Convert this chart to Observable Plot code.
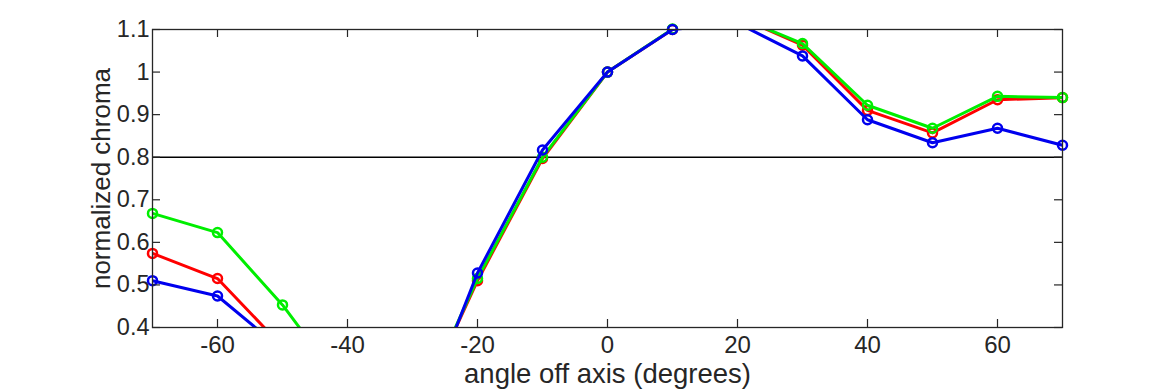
<!DOCTYPE html>
<html>
<head>
<meta charset="utf-8">
<script src="https://cdn.jsdelivr.net/npm/d3@7"></script>
<script src="https://cdn.jsdelivr.net/npm/@observablehq/plot@0.6"></script>
<style>
  html, body { margin: 0; padding: 0; background: #fff; }
</style>
</head>
<body>
<div id="chart"></div>
<script>
const angles = [-70, -60, -50, -40, -30, -20, -10, 0, 10, 20, 30, 40, 50, 60, 70];
const red   = [0.574, 0.515, 0.355, 0.20, 0.177, 0.510, 0.797, 1.0, 1.100, 1.130, 1.063, 0.910, 0.857, 0.935, 0.940];
const green = [0.668, 0.623, 0.453, 0.249, 0.177, 0.515, 0.800, 1.0, 1.101, 1.130, 1.067, 0.922, 0.868, 0.943, 0.940];
const blue  = [0.510, 0.474, 0.347, 0.22, 0.140, 0.528, 0.817, 1.0, 1.100, 1.115, 1.038, 0.888, 0.834, 0.868, 0.828];
const xTicks = [-60, -40, -20, 0, 20, 40, 60];
const yTicks = [0.4, 0.5, 0.6, 0.7, 0.8, 0.9, 1.0, 1.1];
const threshold = 0.8;
const xLabel = "angle off axis (degrees)";
const yLabel = "normalized chroma";

const series = [
  {name: "red", color: "#ff0000", values: red},
  {name: "green", color: "#00ee00", values: green},
  {name: "blue", color: "#0000ee", values: blue}
];
const rows = series.flatMap(s => angles.map((a, i) => ({series: s.name, color: s.color, x: a, y: s.values[i]})));
const yMin = 0.4, yMax = 1.1;
const visible = rows.filter(d => d.y >= yMin - 1e-9 && d.y <= yMax + 0.002);

const axisColor = "#262626";
const lineMarks = series.flatMap(s => [
  Plot.line(rows.filter(d => d.series === s.name), {x: "x", y: "y", stroke: s.color, strokeWidth: 3, clip: true}),
  Plot.dot(visible.filter(d => d.series === s.name), {x: "x", y: "y", stroke: s.color, strokeWidth: 2.5, r: 4.5, fill: "none"})
]);

const chart = Plot.plot({
  width: 1170,
  height: 390,
  marginLeft: 152,
  marginRight: 108,
  marginTop: 29,
  marginBottom: 63,
  style: {fontFamily: "'Liberation Sans', Arial, Helvetica, sans-serif", fontSize: "24px", color: axisColor, background: "#fff"},
  x: {domain: [-70, 70]},
  y: {domain: [yMin, yMax]},
  marks: [
    Plot.ruleY([threshold], {stroke: "#000", strokeWidth: 1.5}),
    ...lineMarks,
    Plot.frame({stroke: axisColor, strokeWidth: 1.3}),
    Plot.tickX(xTicks, {x: d => d, insetTop: 290, stroke: axisColor, strokeWidth: 1.2}),
    Plot.tickX(xTicks, {x: d => d, insetBottom: 290, stroke: axisColor, strokeWidth: 1.2}),
    Plot.tickY(yTicks, {y: d => d, insetRight: 902, stroke: axisColor, strokeWidth: 1.2}),
    Plot.tickY(yTicks, {y: d => d, insetLeft: 902, stroke: axisColor, strokeWidth: 1.2}),
    Plot.axisX({ticks: xTicks, tickSize: 0, tickPadding: 8, fontSize: 24, label: null, fill: axisColor, tickFormat: d => String(d)}),
    Plot.axisY({ticks: yTicks, tickSize: 0, tickPadding: 3, fontSize: 23.5, label: null, fill: axisColor, tickFormat: d => String(+d.toFixed(1))}),
    Plot.text([xLabel], {frameAnchor: "bottom", dy: 47, fontSize: 27.5, fill: axisColor, textAnchor: "middle", lineAnchor: "middle"}),
    Plot.text([yLabel], {frameAnchor: "left", dx: -51, rotate: -90, fontSize: 26, fill: axisColor, textAnchor: "middle", lineAnchor: "middle"})
  ]
});
document.getElementById("chart").appendChild(chart);
</script>
</body>
</html>
